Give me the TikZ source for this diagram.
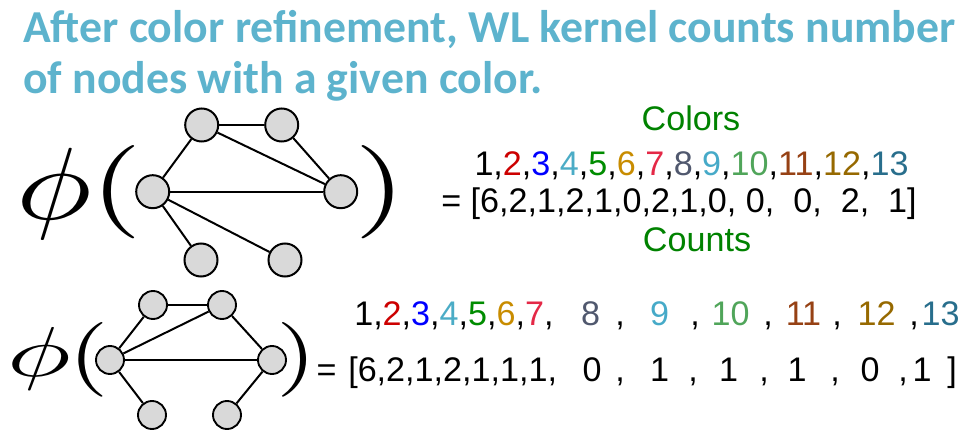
\documentclass[tikz,border=0pt]{standalone}
\usepackage{fontspec}
\newfontfamily\titlefont{Carlito}
\newfontfamily\numfont{Liberation Sans}
\definecolor{titleblue}{RGB}{93,179,205}
\definecolor{labelgreen}{RGB}{0,130,0}
\definecolor{nodegray}{RGB}{217,217,217}
\definecolor{cTwo}{RGB}{204,0,0}
\definecolor{cThree}{RGB}{0,0,255}
\definecolor{cFour}{RGB}{75,172,198}
\definecolor{cFive}{RGB}{0,140,0}
\definecolor{cSix}{RGB}{200,140,0}
\definecolor{cSeven}{RGB}{228,40,70}
\definecolor{cEight}{RGB}{80,88,110}
\definecolor{cNine}{RGB}{70,170,200}
\definecolor{cTen}{RGB}{80,165,90}
\definecolor{cEleven}{RGB}{150,65,20}
\definecolor{cTwelve}{RGB}{150,105,0}
\definecolor{cThirteen}{RGB}{40,110,140}
\newcommand{\firstseven}{1,\textcolor{cTwo}{2},\textcolor{cThree}{3},\textcolor{cFour}{4},\textcolor{cFive}{5},\textcolor{cSix}{6},\textcolor{cSeven}{7},}
\begin{document}
\begin{tikzpicture}[x=0.75pt,y=-0.75pt,
  title/.style={font=\titlefont\bfseries\fontsize{34.3}{40}\selectfont, text=titleblue, anchor=base west, inner sep=0pt},
  num/.style={font=\numfont\fontsize{25.6}{30}\selectfont, anchor=base, inner sep=0pt},
  lbl/.style={num, text=labelgreen},
  sym/.style={inner sep=0pt},
  vbig/.style={circle, draw=black, line width=1.5pt, fill=nodegray, minimum size=24.75pt, inner sep=0pt},
  vsmall/.style={circle, draw=black, line width=1.4pt, fill=nodegray, minimum size=21pt, inner sep=0pt},
  link/.style={line width=1.5pt}]
\useasboundingbox (0,0) rectangle (970,438);

% heading
\node[title] (t1) at (23,43) {After color refinement, WL kernel counts number};
\node[title] (t2) at (23,94) {of nodes with a given color.};

% first graph
\node[sym, xscale=9.5, yscale=7.7] (phiA) at (54,194) {$\phi$};
\node[sym, xscale=10, yscale=7] (lpA) at (116.5,192.5) {(};
\node[sym, xscale=10, yscale=7] (rpA) at (380,192.5) {)};
\node[vbig] (a1) at (201.7,125) {};
\node[vbig] (a2) at (281.7,125) {};
\node[vbig] (a3) at (152.7,191.7) {};
\node[vbig] (a4) at (340.7,191.7) {};
\node[vbig] (a5) at (201,260) {};
\node[vbig] (a6) at (285,260) {};
\draw[link] (a1) -- (a2);
\draw[link] (a1) -- (a3);
\draw[link] (a1) -- (a4);
\draw[link] (a2) -- (a4);
\draw[link] (a3) -- (a4);
\draw[link] (a3) -- (a5);
\draw[link] (a3) -- (a6);

% first feature vector
\node[lbl] (colorsA) at (691,131) {Colors};
\node[num] (idsA) at (691.5,176) {\firstseven\textcolor{cEight}{8},\textcolor{cNine}{9},\textcolor{cTen}{10},\textcolor{cEleven}{11},\textcolor{cTwelve}{12},\textcolor{cThirteen}{13}};
\node[num] (cntA) at (679,213) {= [6,2,1,2,1,0,2,1,0,~0,~~0,~~2,~~1]};
\node[lbl] (countsA) at (697,252) {Counts};

% second graph
\node[sym, xscale=8, yscale=5.3] (phiB) at (39,358.5) {$\phi$};
\node[sym, xscale=7.8, yscale=5.6] (lpB) at (88.5,359.5) {(};
\node[sym, xscale=7.8, yscale=5.6] (rpB) at (297,359.5) {)};
\node[vsmall] (b1) at (153,305) {};
\node[vsmall] (b2) at (222,305) {};
\node[vsmall] (b3) at (110,360) {};
\node[vsmall] (b4) at (272,360) {};
\node[vsmall] (b5) at (152,415) {};
\node[vsmall] (b6) at (227,415) {};
\draw[link] (b1) -- (b2);
\draw[link] (b1) -- (b3);
\draw[link] (b2) -- (b3);
\draw[link] (b2) -- (b4);
\draw[link] (b3) -- (b4);
\draw[link] (b3) -- (b5);
\draw[link] (b4) -- (b6);

% second feature vector, colour indices
\node[num, anchor=base west] (i1) at (354,325) {\firstseven};
\node[num, text=cEight] (i8) at (590.5,325) {8};
\node[num] (k8) at (620,325) {,};
\node[num, text=cNine] (i9) at (659.5,325) {9};
\node[num] (k9) at (695,325) {,};
\node[num, text=cTen] (i10) at (730.5,325) {10};
\node[num] (k10) at (768,325) {,};
\node[num, text=cEleven] (i11) at (803.5,325) {11};
\node[num] (k11) at (837,325) {,};
\node[num, text=cTwelve] (i12) at (876.5,325) {12};
\node[num] (k12) at (914,325) {,};
\node[num, text=cThirteen] (i13) at (940.5,325) {13};

% second feature vector, counts
\node[num] (eqB) at (326.5,381) {=};
\node[num, anchor=base west] (n1) at (348,381) {[6,2,1,2,1,1,1,};
\node[num] (n8) at (592,381) {0};
\node[num] (m8) at (620,381) {,};
\node[num] (n9) at (659.5,381) {1};
\node[num] (m9) at (693,381) {,};
\node[num] (n10) at (728.5,381) {1};
\node[num] (m10) at (764,381) {,};
\node[num] (n11) at (797,381) {1};
\node[num] (m11) at (835,381) {,};
\node[num] (n12) at (870,381) {0};
\node[num] (m12) at (903,381) {,};
\node[num] (n13) at (922,381) {1};
\node[num] (n14) at (952,381) {]};
\end{tikzpicture}
\end{document}
